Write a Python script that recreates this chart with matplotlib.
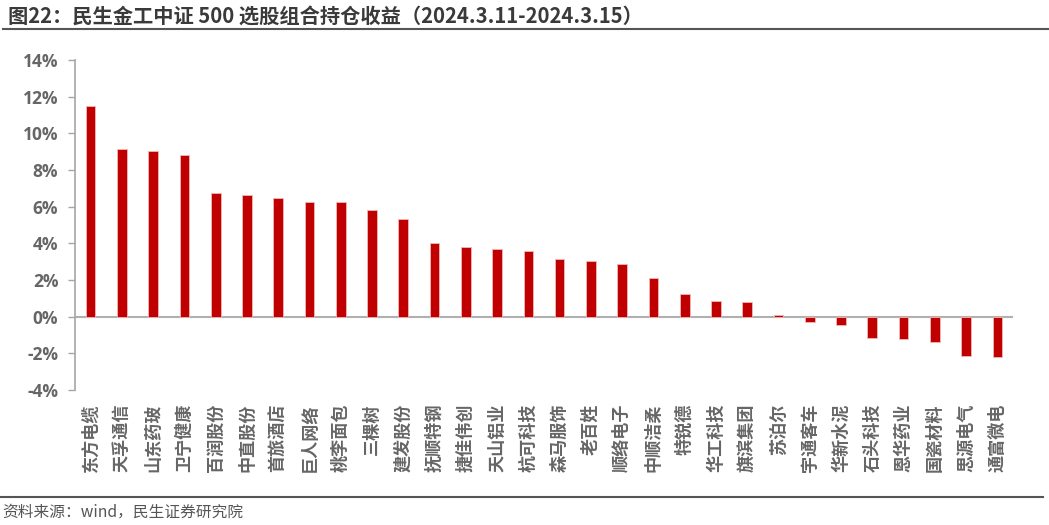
import matplotlib
matplotlib.use("Agg")
import matplotlib.pyplot as plt
from matplotlib.lines import Line2D
from matplotlib.ticker import FuncFormatter

plt.rcParams['font.family'] = ['Noto Sans CJK SC', 'DejaVu Sans']

categories = ["东方电缆", "天孚通信", "山东药玻", "卫宁健康", "百润股份", "中直股份", "首旅酒店",
              "巨人网络", "桃李面包", "三棵树", "建发股份", "抚顺特钢", "捷佳伟创", "天山铝业",
              "杭可科技", "森马服饰", "老百姓", "顺络电子", "中顺洁柔", "特锐德", "华工科技",
              "旗滨集团", "苏泊尔", "宇通客车", "华新水泥", "石头科技", "恩华药业", "国瓷材料",
              "思源电气", "通富微电"]
returns = [11.49, 9.17, 9.02, 8.84, 6.72, 6.63, 6.50, 6.25, 6.23, 5.81, 5.34, 4.03, 3.81, 3.69,
           3.56, 3.12, 3.05, 2.85, 2.11, 1.24, 0.83, 0.82, 0.09, -0.27, -0.45, -1.16, -1.20, -1.40,
           -2.14, -2.20]
yticks = [-4, -2, 0, 2, 4, 6, 8, 10, 12, 14]

title = "图22：民生金工中证 500 选股组合持仓收益（2024.3.11-2024.3.15）"
source = "资料来源：wind，民生证券研究院"

fig = plt.figure(figsize=(10.49, 5.25), dpi=100)
ax = fig.add_axes([75/1049, 1-390/525, 938/1049, 330/525])

x = list(range(len(categories)))
ax.bar(x, returns, width=0.31, color="#C00000", edgecolor="#f2b8b8", linewidth=0.6, zorder=3)
ax.axhline(0, color="#b0b0b0", linewidth=1.5, zorder=2)

ax.set_xlim(-0.5, len(categories) - 0.5)
ax.set_ylim(-4, 14)
ax.set_yticks(yticks)
ax.yaxis.set_major_formatter(FuncFormatter(lambda v, p: f"{v:.0f}%"))
ax.tick_params(axis='y', direction='out', length=5, width=1, color="#a6a6a6",
               labelsize=12.5, labelcolor="#666666", pad=7)
for lab in ax.get_yticklabels():
    lab.set_fontweight('bold')
    lab.set_family(['Open Sans', 'DejaVu Sans'])

ax.set_xticks(x)
ax.set_xticklabels(categories, rotation=90, fontsize=12.3, color="#666666", fontweight='bold')
ax.tick_params(axis='x', length=0, pad=10)

for s in ['top', 'right', 'bottom']:
    ax.spines[s].set_visible(False)
ax.spines['left'].set_color("#a6a6a6")
ax.spines['left'].set_linewidth(1.2)

fig.text(8/1049, 1-17/525, title, fontsize=14.6, fontweight='bold', color="#3a3a3a",
         va='center', ha='left')
fig.add_artist(Line2D([3/1049, 1.0], [1-29/525, 1-29/525], color="#555555", linewidth=1.5,
                      transform=fig.transFigure))
fig.add_artist(Line2D([0.0, 1043/1049], [1-497/525, 1-497/525], color="#555555", linewidth=1.5,
                      transform=fig.transFigure))
fig.text(2/1049, 1-512/525, source, fontsize=11.3, color="#555555", va='center', ha='left')

fig.savefig("out.png", dpi=100)
